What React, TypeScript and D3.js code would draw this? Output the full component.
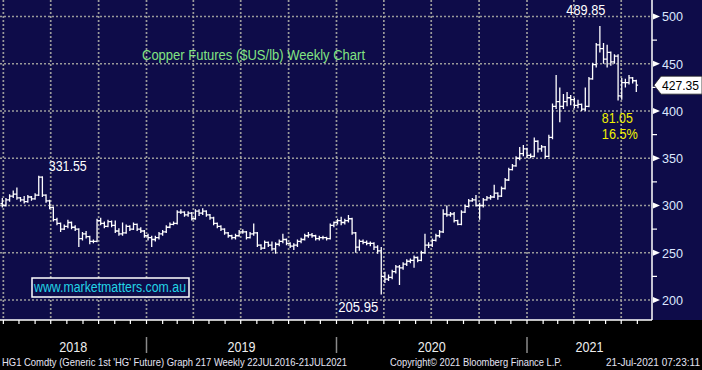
import React from 'react';
import * as d3 from 'd3';

// weekly HG1 bars, first bar week of 30 Mar 2018
const firstWeek = new Date(2018, 2, 30);
const firstOpen = 302;

const closes = [
  300, 306, 310, 312, 308, 306, 304, 309, 307, 311,
  330, 311, 305, 298, 285, 281, 275, 278, 282, 277,
  275, 265, 270, 267, 262, 262, 284, 281, 278, 283,
  279, 273, 270, 271, 278, 275, 280, 275, 273, 268,
  266, 264, 266, 270, 272, 277, 280, 281, 293, 293,
  290, 292, 286, 294, 292, 294, 290, 287, 281, 278,
  275, 271, 268, 266, 268, 272, 272, 266, 270, 271,
  258, 255, 261, 258, 254, 259, 262, 264, 260, 257,
  258, 262, 264, 268, 269, 268, 265, 266, 266, 265,
  279, 282, 284, 282, 284, 286, 271, 256, 262, 261,
  260, 260, 256, 252, 225, 222, 224, 230, 235, 234,
  238, 241, 242, 245, 242, 250, 258, 258, 263, 268,
  272, 291, 290, 291, 284, 280, 293, 299, 305, 306,
  300, 300, 306, 308, 309, 313, 310, 318, 327, 338,
  342, 350, 355, 360, 353, 352, 368, 360, 362, 352,
  372, 405, 410, 405, 410, 414, 412, 406, 407, 402,
  405, 434, 449, 470, 466, 455, 462, 452, 458, 416,
  430, 430, 435, 432, 427.35,
];

const highs = [
  308, 308, 312, 316, 319, 309, 310, 311, 310, 313,
  331.55, 331, 312, 306, 299, 287, 282, 280, 285, 283,
  279, 276, 272, 273, 268, 264, 286, 287, 283, 285,
  284, 284, 276, 282, 280, 279, 282, 281, 277, 274,
  270, 268, 268, 272, 274, 279, 282, 283, 295, 296,
  294, 294, 293, 296, 296, 297, 295, 291, 288, 282,
  279, 276, 272, 269, 270, 274, 275, 273, 272, 281,
  272, 259, 263, 262, 262, 261, 264, 270, 265, 261,
  260, 264, 266, 270, 272, 271, 269, 268, 268, 267,
  281, 283, 286, 288, 286, 290, 287, 272, 264, 264,
  263, 262, 261, 258, 256, 230, 227, 232, 237, 237,
  240, 243, 244, 247, 246, 252, 270, 261, 265, 270,
  274, 296, 300, 293, 293, 285, 295, 301, 307, 308,
  311, 303, 308, 310, 311, 322, 314, 320, 329, 340,
  344, 352, 362, 364, 361, 355, 372, 369, 364, 363,
  375, 408, 438, 425, 418, 420, 417, 414, 412, 408,
  425, 436, 451, 472, 489.85, 472, 470, 463, 460, 460,
  435, 434, 438, 436, 433,
];

const lows = [
  298, 299, 304, 308, 306, 304, 302, 303, 305, 306,
  310, 309, 303, 296, 283, 279, 272, 274, 276, 275,
  273, 256, 263, 265, 259, 260, 261, 279, 276, 277,
  277, 271, 268, 268, 270, 273, 274, 273, 271, 266,
  263, 256, 262, 264, 268, 271, 276, 279, 280, 291,
  288, 288, 284, 285, 289, 290, 288, 285, 279, 276,
  273, 269, 266, 264, 264, 267, 270, 264, 265, 268,
  256, 253, 254, 256, 252, 249, 257, 260, 258, 255,
  253, 256, 260, 263, 266, 266, 263, 263, 264, 263,
  264, 277, 280, 279, 280, 282, 269, 250, 252, 259,
  258, 257, 253, 249, 205.95, 218, 220, 222, 228, 216,
  232, 236, 239, 234, 240, 241, 249, 255, 256, 262,
  266, 271, 288, 288, 282, 279, 279, 292, 298, 304,
  299, 285, 298, 305, 306, 308, 306, 309, 317, 326,
  337, 341, 348, 352, 350, 350, 351, 356, 357, 350,
  351, 370, 402, 388, 402, 405, 406, 403, 403, 400,
  400, 404, 433, 446, 462, 450, 446, 448, 450, 411,
  412, 425, 428, 429, 420,
];

const yTicks = [200, 250, 300, 350, 400, 450, 500];
const yMinorTicks = [225, 275, 325, 375, 425, 475];
const years = [2018, 2019, 2020, 2021];

const title = 'Copper Futures ($US/lb) Weekly Chart';
const watermark = 'www.marketmatters.com.au';
const dropPoints = '81.05';
const dropPct = '16.5%';
const footerLeft = "HG1 Comdty (Generic 1st 'HG' Future) Graph 217  Weekly 22JUL2016-21JUL2021";
const footerMid = 'Copyright\u00a9 2021 Bloomberg Finance L.P.';
const footerRight = '21-Jul-2021 07:23:11';

const W = 702;
const H = 370;
const plotRight = 652;
const plotBottom = 320;
const navy = '#0e0c49';
const gridColor = '#9a9a9a';
const font = 'Liberation Sans, Arial, sans-serif';

export default function App() {
  const x = d3.scaleTime()
    .domain([new Date(2019, 0, 1), new Date(2021, 0, 1)])
    .range([146.5, 527]);
  const y = d3.scaleLinear().domain([200, 500]).range([300, 16.5]);

  const bars = closes.map((c, i) => {
    const date = d3.timeDay.offset(firstWeek, 7 * i);
    const o = i === 0 ? firstOpen : closes[i - 1];
    return {date, o, h: highs[i], l: lows[i], c};
  });

  const quarters = d3.timeMonths(new Date(2018, 0, 1), new Date(2021, 11, 1), 3)
    .filter(d => x(d) >= 0 && x(d) <= plotRight);
  const months = d3.timeMonths(new Date(2018, 0, 1), new Date(2021, 11, 1))
    .filter(d => x(d) >= 0 && x(d) <= plotRight);

  const barPath = bars.map(b => {
    const bx = x(b.date);
    const top = y(Math.max(b.h, b.o, b.c));
    const bot = y(Math.min(b.l, b.o, b.c));
    return `M${bx},${top}V${bot}M${bx - 1.8},${y(b.o)}H${bx}M${bx},${y(b.c)}H${bx + 1.8}`;
  }).join('');

  // annotation anchors
  const peakIdx = highs.indexOf(d3.max(highs)!);
  const lowIdx = lows.indexOf(d3.min(lows)!);
  const hiIdx2018 = highs.indexOf(d3.max(highs.slice(0, 40))!);
  const lastY = y(closes[closes.length - 1]);

  return (
    <svg width={W} height={H} style={{position: 'absolute', left: 0, top: 0, display: 'block'}}
         fontFamily={font}>
      <rect x={0} y={0} width={W} height={H} fill="#000"/>
      <rect x={0} y={0} width={W} height={plotBottom} fill={navy}/>

      {/* grid */}
      <g stroke={gridColor} strokeWidth={1.7} strokeDasharray="2,2">
        {yTicks.map(t => (
          <line key={t} x1={0} x2={plotRight} y1={y(t)} y2={y(t)}/>
        ))}
        {quarters.map(d => (
          <line key={+d} x1={x(d)} x2={x(d)} y1={0} y2={plotBottom}/>
        ))}
      </g>

      {/* title + watermark */}
      <text x={142} y={60} fill="#82e482" fontSize={14} textLength={223}
            lengthAdjust="spacingAndGlyphs">{title}</text>
      <rect x={32} y={278} width={157} height={19} fill={navy} stroke="#fff" strokeWidth={1.5}/>
      <text x={34} y={292} fill="#22d4e6" fontSize={14} textLength={152}
            lengthAdjust="spacingAndGlyphs">{watermark}</text>

      {/* price bars */}
      <path d={barPath} stroke="#fff" strokeWidth={1.3} fill="none"/>

      {/* annotations */}
      <text x={x(bars[hiIdx2018].date) + 10} y={y(highs[hiIdx2018]) - 5} fill="#fff" fontSize={14}
            textLength={38} lengthAdjust="spacingAndGlyphs">{highs[hiIdx2018].toFixed(2)}</text>
      <text x={x(bars[peakIdx].date) - 14} y={y(highs[peakIdx]) - 11} fill="#fff" fontSize={14}
            textAnchor="middle" textLength={39} lengthAdjust="spacingAndGlyphs">{highs[peakIdx].toFixed(2)}</text>
      <text x={x(bars[lowIdx].date) - 3} y={y(lows[lowIdx]) + 17.5} fill="#fff" fontSize={14}
            textAnchor="end" textLength={40} lengthAdjust="spacingAndGlyphs">{lows[lowIdx].toFixed(2)}</text>
      <text x={x(bars[peakIdx].date) + 2} y={123} fill="#f2f200" fontSize={14}
            textLength={31} lengthAdjust="spacingAndGlyphs">{dropPoints}</text>
      <text x={x(bars[peakIdx].date) + 2} y={139} fill="#f2f200" fontSize={14}
            textLength={36} lengthAdjust="spacingAndGlyphs">{dropPct}</text>

      {/* right axis */}
      <line x1={plotRight} x2={plotRight} y1={0} y2={plotBottom} stroke="#fff" strokeWidth={1.5}/>
      {yMinorTicks.map(t => (
        <line key={t} x1={plotRight} x2={plotRight + 5} y1={y(t)} y2={y(t)} stroke="#fff" strokeWidth={1.2}/>
      ))}
      {yTicks.map(t => (
        <g key={t}>
          <path d={`M${plotRight + 1},${y(t) - 3}L${plotRight + 8},${y(t)}L${plotRight + 1},${y(t) + 3}Z`} fill="#fff"/>
          <text x={662} y={y(t)} dy="0.36em" fill="#dde8ff" fontSize={13.5}
                textLength={21} lengthAdjust="spacingAndGlyphs">{t}</text>
        </g>
      ))}
      <path d={`M${plotRight + 2},${lastY}L${plotRight + 9},${lastY - 9}H${W}V${lastY + 9}H${plotRight + 9}Z`}
            fill="#fff" stroke="#222" strokeWidth={0.8}/>
      <text x={699} y={lastY} dy="0.36em" fill="#000" fontSize={12.5} textAnchor="end" textLength={37}
            lengthAdjust="spacingAndGlyphs">{closes[closes.length - 1].toFixed(2)}</text>

      {/* bottom axis */}
      <line x1={0} x2={plotRight} y1={plotBottom} y2={plotBottom} stroke="#fff" strokeWidth={1.5}/>
      {months.map(d => (
        <line key={+d} x1={x(d)} x2={x(d)} y1={plotBottom} y2={plotBottom + 4} stroke="#fff" strokeWidth={1.2}/>
      ))}
      {years.map(yr => {
        const a = Math.max(0, x(new Date(yr, 0, 1)));
        const b = Math.min(plotRight, x(new Date(yr + 1, 0, 1)));
        return (
          <g key={yr}>
            {yr > 2018 && (
              <line x1={x(new Date(yr, 0, 1))} x2={x(new Date(yr, 0, 1))} y1={337} y2={353}
                    stroke="#8a8a8a" strokeWidth={1.5}/>
            )}
            <text x={(a + b) / 2} y={352} fill="#eeeeee" fontSize={15} textAnchor="middle"
                  textLength={28} lengthAdjust="spacingAndGlyphs">{yr}</text>
          </g>
        );
      })}

      {/* footer */}
      <g fill="#e4e4f4" fontSize={10.5} style={{whiteSpace: 'pre'}}>
        <text x={2} y={366} textLength={345} lengthAdjust="spacingAndGlyphs">{footerLeft}</text>
        <text x={390} y={366} textLength={172} lengthAdjust="spacingAndGlyphs">{footerMid}</text>
        <text transform="translate(606,366) scale(0.81,1)" fontSize={11} textLength={116}
              lengthAdjust="spacingAndGlyphs">{footerRight}</text>
      </g>
    </svg>
  );
}
